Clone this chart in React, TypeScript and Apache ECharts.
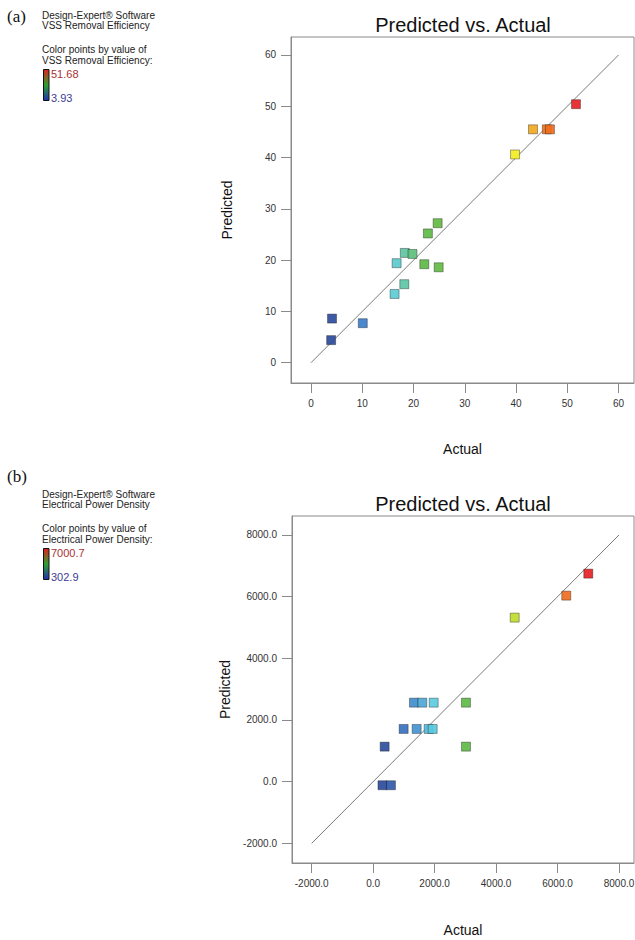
import React, { useEffect, useRef } from "react";
import * as echarts from "echarts";

// ---- Data (a): VSS Removal Efficiency ----
const vssActual = [51.68, 43.3, 46.0, 46.6, 39.8, 24.7, 22.8, 18.3, 19.8, 16.7, 22.1, 24.9, 18.2, 16.3, 4.1, 10.1, 3.93];
const vssPredicted = [50.4, 45.5, 45.5, 45.5, 40.6, 27.2, 25.2, 21.4, 21.2, 19.4, 19.2, 18.6, 15.3, 13.4, 8.6, 7.7, 4.4];
const vssTicks = [0, 10, 20, 30, 40, 50, 60];
const vssDiagonal = [0, 60];
const vssMin = 3.93;
const vssMax = 51.68;

// ---- Data (b): Electrical Power Density ----
const epdActual = [7000.7, 6284, 4605, 1328, 1598, 1969, 3020, 992, 1415, 1806, 1936, 374, 3020, 302.9, 579];
const epdPredicted = [6747, 6033, 5320, 2562, 2562, 2562, 2562, 1709, 1709, 1709, 1709, 1135, 1135, -117, -117];
const epdTicks = [-2000, 0, 2000, 4000, 6000, 8000];
const epdDiagonal = [-2000, 8000];
const epdMin = 302.9;
const epdMax = 7000.7;

const rampColors = ["#2e4b9c", "#3a7ac8", "#5ccde0", "#5cb848", "#6cbf3c", "#b8d830", "#f2ee22", "#f07a20", "#e52126"];

const FONT = 'Arial, "Liberation Sans", sans-serif';
const AXIS_GRAY = "#8a8a8a";

function zip(a: number[], b: number[]) {
  return a.map((v, i) => [v, b[i]]);
}

function makeAxis(
  gridIndex: number,
  min: number,
  max: number,
  ticks: number[],
  fmt: (v: number) => string,
  name: string,
  nameGap: number
) {
  return {
    type: "value",
    gridIndex,
    min,
    max,
    axisLine: { show: true, onZero: false, lineStyle: { color: AXIS_GRAY, width: 1 } },
    axisTick: { show: true, length: 10, customValues: ticks, lineStyle: { color: AXIS_GRAY } },
    axisLabel: {
      customValues: ticks,
      margin: 15,
      fontSize: 10,
      color: "#333",
      fontFamily: FONT,
      formatter: (v: number) => fmt(v),
    },
    splitLine: { show: false },
    name,
    nameLocation: "middle",
    nameGap,
    nameTextStyle: { fontSize: 14, color: "#111", fontFamily: FONT },
  };
}

function legendBlock(dy: number, label: string, hi: string, lo: string, tag: string) {
  const t = (text: string, x: number, y: number, size: number, fill: string, family = FONT) => ({
    type: "text",
    x,
    y,
    style: { text, fill, fontSize: size, fontFamily: family, textVerticalAlign: "middle" },
  });
  return [
    t(tag, 7, 16 + dy - (tag === "(b)" ? 19 : 0), 17, "#111", '"Liberation Serif", "Times New Roman", serif'),
    t("Design-Expert® Software", 42, 15 + dy, 10, "#222"),
    t(label, 42, 25 + dy, 10, "#222"),
    t("Color points by value of", 42, 49.5 + dy, 10, "#222"),
    t(label + ":", 42, 60.5 + dy, 10, "#222"),
    {
      type: "rect",
      shape: { x: 43.5, y: 69.5 + dy, width: 5.5, height: 31 },
      style: {
        fill: {
          type: "linear",
          x: 0,
          y: 0,
          x2: 0,
          y2: 1,
          colorStops: [
            { offset: 0, color: "#e02020" },
            { offset: 0.5, color: "#30a030" },
            { offset: 1, color: "#2030b0" },
          ],
        },
        stroke: "#111",
        lineWidth: 1,
      },
    },
    t(hi, 51, 73.5 + dy, 11, "#a83232"),
    t(lo, 51, 98 + dy, 11, "#3c3c96"),
  ];
}

export default function App() {
  const ref = useRef<HTMLDivElement>(null);

  useEffect(() => {
    if (!ref.current) return;
    const chart = echarts.init(ref.current, undefined, { renderer: "svg" });

    const scatterStyle = {
      borderColor: "rgba(20,20,20,0.4)",
      borderWidth: 1,
      opacity: 0.92,
    };

    const option: any = {
      animation: false,
      backgroundColor: "#ffffff",
      grid: [
        { left: 291, top: 37, width: 343, height: 346, show: true, borderColor: AXIS_GRAY, borderWidth: 1, outerBoundsMode: "none" },
        { left: 292, top: 516, width: 342, height: 347, show: true, borderColor: AXIS_GRAY, borderWidth: 1, outerBoundsMode: "none" },
      ],
      xAxis: [
        makeAxis(0, -3.9, 63.0, vssTicks, (v) => String(v), "Actual", 59),
        makeAxis(1, -2641, 8488, epdTicks, (v) => v.toFixed(1), "Actual", 60),
      ],
      yAxis: [
        makeAxis(0, -3.96, 63.5, vssTicks, (v) => String(v), "Predicted", 57),
        makeAxis(1, -2639, 8616, epdTicks, (v) => v.toFixed(1), "Predicted", 57),
      ],
      visualMap: [
        { type: "continuous", show: false, seriesIndex: 1, dimension: 0, min: vssMin, max: vssMax, inRange: { color: rampColors } },
        { type: "continuous", show: false, seriesIndex: 3, dimension: 0, min: epdMin, max: epdMax, inRange: { color: rampColors } },
      ],
      series: [
        {
          type: "line",
          xAxisIndex: 0,
          yAxisIndex: 0,
          data: [[vssDiagonal[0], vssDiagonal[0]], [vssDiagonal[1], vssDiagonal[1]]],
          symbol: "none",
          silent: true,
          lineStyle: { color: "#7a7a7a", width: 1 },
          z: 1,
        },
        {
          type: "scatter",
          xAxisIndex: 0,
          yAxisIndex: 0,
          symbol: "rect",
          symbolSize: 9,
          data: zip(vssActual, vssPredicted),
          itemStyle: scatterStyle,
          z: 2,
        },
        {
          type: "line",
          xAxisIndex: 1,
          yAxisIndex: 1,
          data: [[epdDiagonal[0], epdDiagonal[0]], [epdDiagonal[1], epdDiagonal[1]]],
          symbol: "none",
          silent: true,
          lineStyle: { color: "#7a7a7a", width: 1 },
          z: 1,
        },
        {
          type: "scatter",
          xAxisIndex: 1,
          yAxisIndex: 1,
          symbol: "rect",
          symbolSize: 9,
          data: zip(epdActual, epdPredicted),
          itemStyle: scatterStyle,
          z: 2,
        },
      ],
      graphic: [
        {
          type: "text",
          x: 463,
          y: 25,
          style: { text: "Predicted vs. Actual", fill: "#111", fontSize: 20, fontFamily: FONT, textAlign: "center", textVerticalAlign: "middle" },
        },
        {
          type: "text",
          x: 463,
          y: 504,
          style: { text: "Predicted vs. Actual", fill: "#111", fontSize: 20, fontFamily: FONT, textAlign: "center", textVerticalAlign: "middle" },
        },
        ...legendBlock(0, "VSS Removal Efficiency", "51.68", "3.93", "(a)"),
        ...legendBlock(479, "Electrical Power Density", "7000.7", "302.9", "(b)"),
      ],
    };

    chart.setOption(option);
    return () => chart.dispose();
  }, []);

  return (
    <div
      ref={ref}
      style={{ position: "fixed", left: 0, top: 0, width: 635, height: 940, background: "#fff" }}
    />
  );
}
